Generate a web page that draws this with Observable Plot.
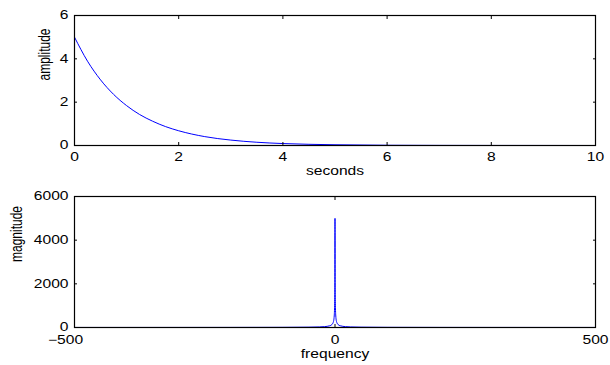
<!DOCTYPE html>
<html>
<head>
<meta charset="utf-8">
<script src="https://cdn.jsdelivr.net/npm/d3@7"></script>
<script src="https://cdn.jsdelivr.net/npm/@observablehq/plot@0.6"></script>
<style>
  html, body { margin: 0; padding: 0; background: #fff; }
  #chart { width: 610px; height: 365px; }
  #chart svg { display: block; }
</style>
</head>
<body>
<div id="chart"></div>
<script>
// ---- Top panel: decaying signal ----
const timeSeconds = [0, 0.25, 0.5, 0.75, 1, 1.25, 1.5, 1.75, 2, 2.5, 3, 3.5, 4, 4.5, 5, 6, 7, 8, 9, 10];
const amplitude   = [5, 3.89, 3.03, 2.36, 1.84, 1.43, 1.12, 0.87, 0.68, 0.41, 0.25, 0.15, 0.09, 0.055, 0.034, 0.012, 0.005, 0.002, 0.001, 0.0];
const secondsTicks = [0, 2, 4, 6, 8, 10];
const amplitudeTicks = [0, 2, 4, 6];

// ---- Bottom panel: magnitude spectrum ----
const frequency = [-500, -300, -200, -100, -50, -30, -20, -10, -6, -4, -3, -2, -1.5, -1, -0.7, -0.5, -0.3, -0.2, -0.1, 0,
                   0.1, 0.2, 0.3, 0.5, 0.7, 1, 1.5, 2, 3, 4, 6, 10, 20, 30, 50, 100, 200, 300, 500];
const magnitude = [1.6, 2.7, 4, 8, 16, 26, 40, 80, 133, 199, 265, 397, 528, 786, 1106, 1515, 2342, 3115, 4233, 5000,
                   4233, 3115, 2342, 1515, 1106, 786, 528, 397, 265, 199, 133, 80, 40, 26, 16, 8, 4, 2.7, 1.6];
const frequencyTicks = [-500, 0, 500];
const magnitudeTicks = [0, 2000, 4000, 6000];

const FONT = "'Liberation Sans', Arial, Helvetica, sans-serif";
const FS = 12;
const STRETCH = 1.3;   // reference text is drawn wider than tall
const LINE = "#0000ff";
const fmt = d => d < 0 ? "\u2212" + (-d) : String(d);

function panel({xs, ys, xDomain, yDomain, xTicks, yTicks, xLabel, yLabel, yLabelDx, xLabelDy, xTickPad, height, marginTop, marginBottom}) {
  const data = xs.map((x, i) => ({x, y: ys[i]}));
  const posTicks = xTicks.filter(d => d >= 0);
  const negTicks = xTicks.filter(d => d < 0);
  return Plot.plot({
    width: 610,
    height,
    marginLeft: 74,
    marginRight: 15,
    marginTop,
    marginBottom,
    style: {fontFamily: FONT, fontSize: FS + "px", color: "#000", background: "#fff", overflow: "visible"},
    x: {domain: xDomain},
    y: {domain: yDomain},
    marks: [
      Plot.line(data, {x: "x", y: "y", stroke: LINE, strokeWidth: 1, curve: "monotone-x", clip: true}),
      Plot.frame({stroke: "#000", strokeWidth: 1.2}),
      Plot.axisX(posTicks, {anchor: "bottom", tickSize: -3, tickPadding: xTickPad, tickFormat: fmt, label: null, fontSize: FS}),
      Plot.axisX(negTicks, {anchor: "bottom", tickSize: 0, tickPadding: xTickPad - 3, tickFormat: fmt, label: null, fontSize: FS, dx: -9}),
      Plot.axisX(negTicks, {anchor: "bottom", tickSize: -3, tickFormat: () => "", label: null}),
      Plot.axisX(xTicks, {anchor: "top", tickSize: -3, tickFormat: () => "", label: null}),
      Plot.axisY(yTicks, {anchor: "left", tickSize: -3, tickPadding: 9, tickFormat: fmt, label: null, fontSize: FS}),
      Plot.axisY(yTicks, {anchor: "right", tickSize: -3, tickFormat: () => "", label: null}),
      Plot.text([xLabel], {frameAnchor: "bottom", dy: xLabelDy, text: d => d, fontSize: FS, lineAnchor: "middle"}),
      Plot.text([yLabel], {frameAnchor: "left", dx: yLabelDx, rotate: -90, text: d => d, fontSize: FS * STRETCH, lineAnchor: "middle"})
    ]
  });
}

const topPanel = panel({
  xs: timeSeconds, ys: amplitude, xDomain: [0, 10], yDomain: [0, 6],
  xTicks: secondsTicks, yTicks: amplitudeTicks,
  xLabel: "seconds", yLabel: "amplitude", yLabelDx: -30, xLabelDy: 26, xTickPad: 10,
  height: 180, marginTop: 15, marginBottom: 35
});
const bottomPanel = panel({
  xs: frequency, ys: magnitude, xDomain: [-500, 500], yDomain: [0, 6000],
  xTicks: frequencyTicks, yTicks: magnitudeTicks,
  xLabel: "frequency", yLabel: "magnitude", yLabelDx: -58, xLabelDy: 27, xTickPad: 11,
  height: 185, marginTop: 16, marginBottom: 38
});
document.getElementById("chart").append(topPanel, bottomPanel);

// The reference glyphs are wider than they are tall: stretch across the screen's x direction.
for (const svg of [topPanel, bottomPanel]) {
  svg.querySelectorAll("text").forEach(t => {
    if (!t.textContent) return;
    const len = t.getComputedTextLength();
    if (!len) return;
    const rotated = /rotate/.test(t.getAttribute("transform") || "") ||
                    /rotate/.test((t.parentNode && t.parentNode.getAttribute && t.parentNode.getAttribute("transform")) || "");
    t.setAttribute("lengthAdjust", "spacingAndGlyphs");
    t.setAttribute("textLength", rotated ? len / STRETCH : len * STRETCH);
  });
}
</script>
</body>
</html>
